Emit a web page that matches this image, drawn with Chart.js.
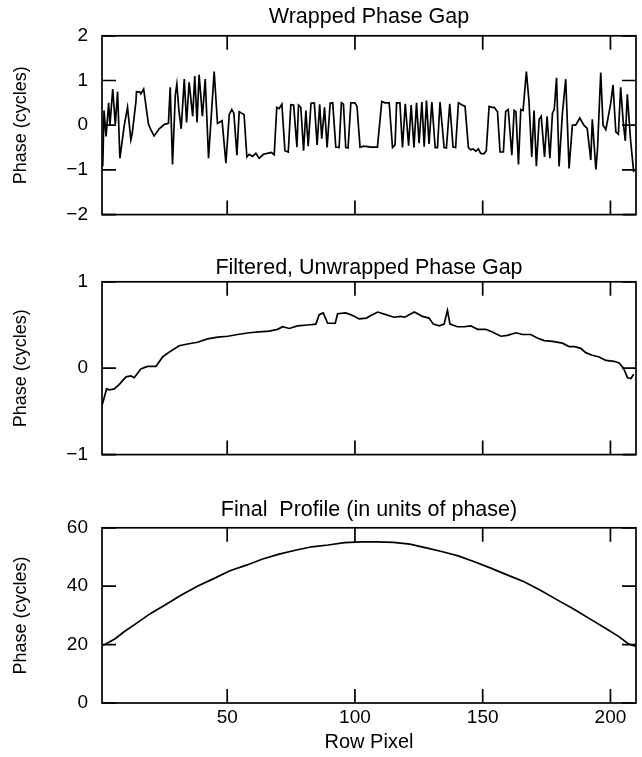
<!DOCTYPE html>
<html lang="en">
<head>
    <meta charset="UTF-8">
    <title>Phase Gap Profiles</title>
    <script src="https://cdn.jsdelivr.net/npm/chart.js"></script>
    <style>
        body {
            margin: 0;
            background: #fff;
        }
        .panel {
            position: absolute;
            left: 0;
        }
    </style>
</head>
<body>
    <div class="panel" style="top:0"><canvas id="wrapped" width="642" height="240"></canvas></div>
    <div class="panel" style="top:240px"><canvas id="filtered" width="642" height="240"></canvas></div>
    <div class="panel" style="top:480px"><canvas id="profile" width="642" height="277"></canvas></div>

    <script>
        // x tick positions shared by all three panels
        const rowTicks = [50, 100, 150, 200];

        // Wrapped Phase Gap
        const wrappedTicks = [-2, -1, 0, 1, 2];
        const wrappedX = [1.3, 1.8, 2.6, 3.6, 4.1, 5.2, 6.2, 7.1, 8.0, 9.7, 11.0, 12.3, 12.8, 14.3, 14.5, 15.8, 16.2, 17.3, 19.2, 20.1,
            21.4, 23.4, 25.4, 27.0, 27.7, 28.6, 29.7, 30.3, 31.1, 32.0, 33.2, 34.1, 35.1, 36.5, 37.3, 38.2, 39.0, 40.3, 41.4, 42.7,
            44.9, 46.2, 48.0, 49.5, 50.8, 51.8, 52.6, 53.8, 54.7, 55.6, 56.6, 57.7, 58.6, 59.9, 61.2, 62.5, 64.2, 65.7, 67.3, 68.4,
            69.4, 70.3, 71.4, 72.6, 73.9, 74.9, 76.0, 77.3, 77.9, 78.8, 79.9, 80.8, 81.7, 82.8, 84.1, 85.2, 86.2, 87.0, 88.1, 89.1,
            90.3, 91.3, 92.5, 93.8, 94.7, 95.5, 96.4, 97.3, 98.4, 100.0, 100.8, 102.0, 103.6, 106.2, 108.8, 110.5, 111.8, 113.4, 114.7, 115.7,
            116.3, 117.6, 118.6, 119.7, 121.0, 122.0, 123.1, 124.1, 125.1, 126.2, 127.1, 128.0, 129.0, 130.1, 131.4, 132.3, 133.3, 134.9, 135.8, 137.1,
            138.4, 139.4, 140.5, 142.0, 143.1, 144.4, 145.3, 146.2, 147.3, 148.3, 149.2, 150.5, 151.4, 152.5, 153.6, 154.5, 155.8, 156.8, 158.1, 159.0,
            160.0, 161.4, 162.3, 163.0, 164.0, 164.9, 165.8, 167.1, 168.1, 169.2, 170.1, 171.0, 172.1, 172.9, 174.2, 175.2, 176.3, 177.3, 178.0, 178.9,
            179.9, 181.2, 182.5, 183.8, 185.1, 186.4, 188.0, 189.6, 190.9, 192.3, 192.9, 194.3, 194.9, 196.2, 197.1, 198.2, 200.1, 201.0, 202.1, 203.1,
            204.0, 205.0, 205.8, 206.6, 207.9, 209.1];
        const wrappedY = [-0.92, 0.33, -0.25, 0.5, 0.0, 0.81, 0.02, 0.75, -0.74, -0.01, 0.4, -0.33, -0.2, 0.54, 0.75, 0.74, 0.7, 0.81, 0.02, -0.1,
            -0.24, -0.08, 0.02, 0.04, 0.85, -0.88, 0.68, 0.92, 0.33, -0.08, 1.03, 0.06, 0.96, 0.2, 1.1, 0.06, 1.13, 0.2, 1.03, -0.74,
            1.2, 0.04, 0.1, -0.85, 0.24, 0.35, 0.27, -0.67, 0.3, 0.27, 0.24, -0.71, -0.65, -0.7, -0.63, -0.74, -0.65, -0.63, -0.61, -0.66,
            0.4, 0.37, 0.47, -0.57, -0.6, 0.46, 0.45, -0.49, 0.45, 0.4, -0.57, 0.33, -0.47, 0.49, 0.5, -0.44, 0.47, -0.3, 0.4, -0.5,
            0.49, 0.5, -0.49, -0.5, 0.5, 0.47, -0.5, -0.51, 0.5, 0.5, 0.42, -0.49, -0.47, -0.49, -0.49, 0.53, 0.5, 0.5, -0.5, -0.44,
            0.5, 0.5, -0.5, 0.48, -0.46, 0.45, -0.5, 0.5, -0.4, 0.52, -0.48, 0.55, -0.42, 0.52, -0.5, -0.5, 0.52, -0.5, -0.51, 0.48,
            -0.49, -0.5, 0.5, 0.45, 0.42, -0.5, -0.55, -0.53, -0.58, -0.53, -0.63, -0.64, -0.57, 0.42, 0.4, 0.4, 0.3, -0.6, -0.6, 0.31,
            0.35, -0.67, 0.33, 0.3, -0.88, 0.35, 0.33, 1.2, 0.55, -0.71, 0.33, -0.92, 0.13, 0.2, -0.71, 0.2, -0.74, 0.27, 0.35, 1.06,
            -0.92, 0.27, 1.03, -0.97, 0.0, 0.0, 0.16, 0.0, -0.07, -0.78, 0.13, -0.99, -0.57, 1.18, 0.0, -0.1, 0.49, 0.9, -0.15, -0.2,
            0.85, 0.07, -0.35, 0.69, -0.35, -1.05];

        // Filtered, Unwrapped Phase Gap
        const filteredTicks = [-1, 0, 1];
        const filteredX = [1.0, 1.5, 2.8, 3.9, 5.8, 7.7, 10.4, 12.3, 13.6, 16.2, 18.8, 22.1, 24.7, 28.0, 31.2, 34.5, 38.4, 42.3, 46.3, 50.2,
            54.1, 58.6, 62.5, 66.4, 69.7, 71.7, 74.3, 77.5, 81.4, 84.7, 86.0, 87.6, 89.3, 92.3, 93.2, 96.4, 99.1, 101.6, 104.5, 106.2,
            108.9, 112.1, 115.3, 117.9, 119.5, 123.2, 126.4, 129.0, 130.7, 133.0, 134.9, 136.2, 137.2, 140.1, 142.7, 145.3, 148.0, 151.2, 153.8, 157.1,
            159.7, 163.0, 165.6, 168.8, 171.4, 174.1, 177.3, 181.2, 183.8, 186.0, 188.4, 190.3, 192.9, 195.6, 198.2, 201.4, 203.4, 205.1, 206.7, 208.0,
            209.1];
        const filteredY = [-0.43, -0.38, -0.24, -0.25, -0.24, -0.19, -0.1, -0.09, -0.11, -0.01, 0.02, 0.02, 0.13, 0.2, 0.26, 0.28, 0.3, 0.34, 0.36, 0.37,
            0.39, 0.41, 0.42, 0.43, 0.45, 0.48, 0.46, 0.49, 0.5, 0.51, 0.62, 0.64, 0.52, 0.52, 0.63, 0.64, 0.61, 0.57, 0.58, 0.61,
            0.65, 0.62, 0.59, 0.6, 0.59, 0.65, 0.6, 0.58, 0.51, 0.49, 0.51, 0.67, 0.51, 0.48, 0.48, 0.49, 0.45, 0.45, 0.42, 0.37,
            0.38, 0.41, 0.39, 0.39, 0.35, 0.32, 0.31, 0.29, 0.25, 0.25, 0.23, 0.18, 0.15, 0.13, 0.09, 0.08, 0.06, 0.0, -0.11, -0.12,
            -0.07];

        // Final Profile (in units of phase)
        const profileTicks = [0, 20, 40, 60];
        const profileX = [1.0, 2.3, 6.3, 9.5, 14.3, 19.9, 25.5, 31.9, 38.3, 44.7, 51.1, 57.5, 63.9, 70.3, 76.7, 83.1, 89.5, 95.9, 102.3, 108.7,
            115.1, 121.5, 127.9, 134.3, 140.7, 147.0, 153.4, 159.8, 166.2, 172.6, 179.0, 185.4, 191.8, 198.2, 203.0, 207.0, 210.0];
        const profileY = [19.8, 20.1, 22.1, 24.3, 27.2, 30.6, 33.5, 36.9, 40.0, 42.6, 45.3, 47.2, 49.3, 51.0, 52.3, 53.5, 54.1, 54.9, 55.2, 55.2,
            55.0, 54.4, 53.1, 51.8, 50.3, 48.3, 46.1, 43.8, 41.5, 38.6, 35.4, 32.3, 28.9, 25.5, 22.9, 20.3, 19.4];

        const FONT = "'Liberation Sans', Arial, Helvetica, sans-serif";

        // box round the plot area plus the inward tick marks on all four sides
        const frameTicks = {
            id: 'frameTicks',
            afterDatasetsDraw(chart) {
                const ctx = chart.ctx;
                const a = chart.chartArea;
                const x = chart.scales.x;
                const y = chart.scales.y;
                const len = 14;
                ctx.save();
                ctx.strokeStyle = '#000';
                ctx.lineWidth = 1.7;
                ctx.strokeRect(a.left, a.top, a.right - a.left, a.bottom - a.top);
                ctx.beginPath();
                x.ticks.forEach(t => {
                    const px = x.getPixelForValue(t.value);
                    ctx.moveTo(px, a.bottom);
                    ctx.lineTo(px, a.bottom - len);
                    ctx.moveTo(px, a.top);
                    ctx.lineTo(px, a.top + len);
                });
                y.ticks.forEach(t => {
                    const py = y.getPixelForValue(t.value);
                    ctx.moveTo(a.left, py);
                    ctx.lineTo(a.left + len, py);
                    ctx.moveTo(a.right, py);
                    ctx.lineTo(a.right - len, py);
                });
                ctx.stroke();
                ctx.restore();
            }
        };

        function makePanel(id, opts) {
            const points = opts.xs.map((v, i) => ({ x: v, y: opts.ys[i] }));
            return new Chart(document.getElementById(id), {
                type: 'line',
                data: {
                    datasets: [{
                        data: points,
                        borderColor: '#000',
                        borderWidth: 1.7,
                        pointRadius: 0,
                        tension: 0,
                        fill: false
                    }]
                },
                options: {
                    responsive: false,
                    animation: false,
                    events: [],
                    layout: { padding: { left: 0, right: 6, top: 0, bottom: 0 } },
                    plugins: {
                        legend: { display: false },
                        tooltip: { enabled: false },
                        title: {
                            display: true,
                            text: opts.title,
                            fullSize: false,
                            color: '#000',
                            font: { family: FONT, size: 21.5, weight: 'normal' },
                            padding: opts.titlePad
                        }
                    },
                    scales: {
                        x: {
                            type: 'linear',
                            min: 1,
                            max: 210,
                            grid: { display: false, drawTicks: false },
                            border: { display: false },
                            afterBuildTicks: s => { s.ticks = rowTicks.map(v => ({ value: v })); },
                            afterFit: s => { s.height = opts.xHeight; },
                            ticks: {
                                display: opts.showX,
                                padding: 3,
                                color: '#000',
                                font: { family: FONT, size: 19 }
                            },
                            title: {
                                display: opts.showX,
                                text: 'Row Pixel',
                                color: '#000',
                                font: { family: FONT, size: 20 },
                                padding: { top: 0, bottom: 3 }
                            }
                        },
                        y: {
                            type: 'linear',
                            min: opts.yTicks[0],
                            max: opts.yTicks[opts.yTicks.length - 1],
                            grid: { display: false, drawTicks: false },
                            border: { display: false },
                            afterBuildTicks: s => { s.ticks = opts.yTicks.map(v => ({ value: v })); },
                            afterFit: s => { s.width = 102; },
                            ticks: {
                                padding: 14,
                                color: '#000',
                                font: { family: FONT, size: 19 },
                                callback: v => String(v).replace('-', '\u2212')
                            },
                            title: {
                                display: true,
                                text: 'Phase (cycles)',
                                color: '#000',
                                font: { family: FONT, size: 18 },
                                padding: { top: 10, bottom: 0 }
                            }
                        }
                    }
                },
                plugins: [frameTicks]
            });
        }

        makePanel('wrapped', {
            title: 'Wrapped Phase Gap',
            xs: wrappedX, ys: wrappedY, yTicks: wrappedTicks,
            titlePad: { top: 4, bottom: 6 }, xHeight: 13, showX: false
        });
        makePanel('filtered', {
            title: 'Filtered, Unwrapped Phase Gap',
            xs: filteredX, ys: filteredY, yTicks: filteredTicks,
            titlePad: { top: 15, bottom: 1 }, xHeight: 8, showX: false
        });
        makePanel('profile', {
            title: 'Final  Profile (in units of phase)',
            xs: profileX, ys: profileY, yTicks: profileTicks,
            titlePad: { top: 17, bottom: 5 }, xHeight: 54, showX: true
        });
    </script>
</body>
</html>
